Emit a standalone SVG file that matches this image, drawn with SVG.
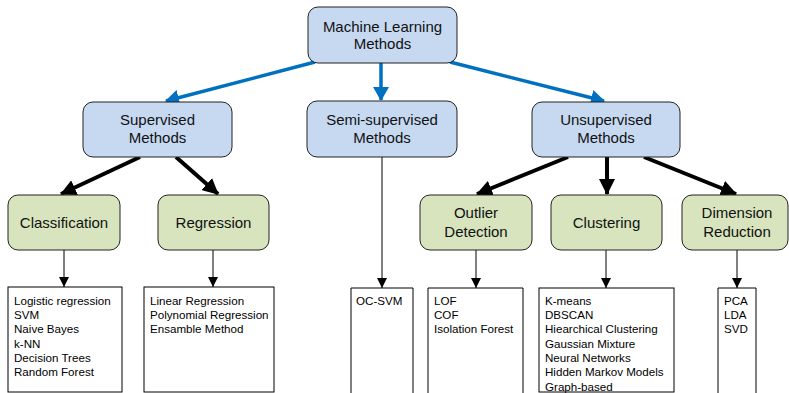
<svg xmlns="http://www.w3.org/2000/svg" width="789" height="393" viewBox="0 0 789 393">
  <style>
    .blue { fill: #c6d9f1; stroke: #222; stroke-width: 1; }
    .green { fill: #d7e4bd; stroke: #222; stroke-width: 1; }
    .list { fill: #fff; stroke: #000; stroke-width: 1; }
    .lbl { font-family: "Liberation Sans", Arial, sans-serif; font-size: 15px; fill: #111; text-anchor: middle; }
    .item { font-family: "Liberation Sans", Arial, sans-serif; font-size: 11.6px; fill: #000; }
    .c-blue { stroke: #0070c0; stroke-width: 3.5; fill: none; }
    .c-thick { stroke: #000; stroke-width: 4; fill: none; }
    .c-thin { stroke: #000; stroke-width: 1; fill: none; }
  </style>
  <defs>
    <marker id="hBlue" markerUnits="userSpaceOnUse" viewBox="0 0 14 16" refX="13" refY="8" markerWidth="14" markerHeight="16" orient="auto">
      <path d="M0,0 L14,8 L0,16 Z" fill="#0070c0"/>
    </marker>
    <marker id="hBlack" markerUnits="userSpaceOnUse" viewBox="0 0 16 16" refX="15" refY="8" markerWidth="16" markerHeight="16" orient="auto">
      <path d="M0,0 L16,8 L0,16 Z" fill="#000"/>
    </marker>
    <marker id="hThin" markerUnits="userSpaceOnUse" viewBox="0 0 10 10" refX="10" refY="5" markerWidth="10" markerHeight="10" orient="auto">
      <path d="M0,0 L10,5 L0,10 Z" fill="#000"/>
    </marker>
  </defs>

  <!-- connectors -->
  <g id="connectors">
    <line class="c-blue" x1="315" y1="62" x2="166" y2="101" marker-end="url(#hBlue)"/>
    <line class="c-blue" x1="381" y1="63" x2="381" y2="100" marker-end="url(#hBlue)"/>
    <line class="c-blue" x1="450" y1="62" x2="604" y2="101" marker-end="url(#hBlue)"/>

    <line class="c-thick" x1="140" y1="157" x2="61" y2="194" marker-end="url(#hBlack)"/>
    <line class="c-thick" x1="176" y1="157" x2="218" y2="194" marker-end="url(#hBlack)"/>
    <line class="c-thick" x1="568" y1="157" x2="477" y2="194" marker-end="url(#hBlack)"/>
    <line class="c-thick" x1="607" y1="157" x2="607" y2="194" marker-end="url(#hBlack)"/>
    <line class="c-thick" x1="644" y1="157" x2="736" y2="194" marker-end="url(#hBlack)"/>

    <line class="c-thin" x1="64" y1="250" x2="64" y2="287" marker-end="url(#hThin)"/>
    <line class="c-thin" x1="213" y1="250" x2="213" y2="287" marker-end="url(#hThin)"/>
    <line class="c-thin" x1="382" y1="157" x2="382" y2="288" marker-end="url(#hThin)"/>
    <line class="c-thin" x1="476" y1="250" x2="476" y2="288" marker-end="url(#hThin)"/>
    <line class="c-thin" x1="606" y1="250" x2="606" y2="288" marker-end="url(#hThin)"/>
    <line class="c-thin" x1="737" y1="250" x2="737" y2="288" marker-end="url(#hThin)"/>
  </g>

  <!-- method families -->
  <g id="ml-methods">
    <rect class="blue" x="308" y="7" width="149" height="56" rx="10"/>
    <text class="lbl" x="382.5" y="32">Machine Learning</text>
    <text class="lbl" x="382.5" y="49">Methods</text>
  </g>
  <g id="supervised">
    <rect class="blue" x="83" y="102" width="149" height="55" rx="10"/>
    <text class="lbl" x="157.5" y="125">Supervised</text>
    <text class="lbl" x="157.5" y="143">Methods</text>
  </g>
  <g id="semi-supervised">
    <rect class="blue" x="307" y="101" width="150" height="56" rx="10"/>
    <text class="lbl" x="382" y="125">Semi-supervised</text>
    <text class="lbl" x="382" y="143">Methods</text>
  </g>
  <g id="unsupervised">
    <rect class="blue" x="532" y="102" width="148" height="55" rx="10"/>
    <text class="lbl" x="606" y="125">Unsupervised</text>
    <text class="lbl" x="606" y="143">Methods</text>
  </g>

  <!-- tasks -->
  <g id="classification">
    <rect class="green" x="8" y="195" width="112" height="55" rx="10"/>
    <text class="lbl" x="64" y="228">Classification</text>
  </g>
  <g id="regression">
    <rect class="green" x="158" y="195" width="111" height="55" rx="10"/>
    <text class="lbl" x="213.5" y="228">Regression</text>
  </g>
  <g id="outlier-detection">
    <rect class="green" x="420" y="195" width="112" height="55" rx="10"/>
    <text class="lbl" x="476" y="218">Outlier</text>
    <text class="lbl" x="476" y="237">Detection</text>
  </g>
  <g id="clustering">
    <rect class="green" x="551" y="195" width="111" height="55" rx="10"/>
    <text class="lbl" x="606.5" y="228">Clustering</text>
  </g>
  <g id="dimension-reduction">
    <rect class="green" x="682" y="195" width="106" height="55" rx="10"/>
    <text class="lbl" x="737" y="218">Dimension</text>
    <text class="lbl" x="737" y="237">Reduction</text>
  </g>

  <!-- algorithm lists -->
  <g id="list-classification">
    <rect class="list" x="8" y="287" width="114" height="105"/>
    <text class="item" x="14" y="305">Logistic regression</text>
    <text class="item" x="14" y="319">SVM</text>
    <text class="item" x="14" y="333">Naive Bayes</text>
    <text class="item" x="14" y="348">k-NN</text>
    <text class="item" x="14" y="362">Decision Trees</text>
    <text class="item" x="14" y="376">Random Forest</text>
  </g>
  <g id="list-regression">
    <rect class="list" x="144" y="287" width="130" height="105"/>
    <text class="item" x="150" y="305">Linear Regression</text>
    <text class="item" x="150" y="319">Polynomial Regression</text>
    <text class="item" x="150" y="333">Ensamble Method</text>
  </g>
  <g id="list-semi">
    <path class="list" d="M351,394 V288 H413 V394"/>
    <text class="item" x="356" y="305">OC-SVM</text>
  </g>
  <g id="list-outlier">
    <path class="list" d="M428,394 V288 H523 V394"/>
    <text class="item" x="434" y="305">LOF</text>
    <text class="item" x="434" y="319">COF</text>
    <text class="item" x="434" y="333">Isolation Forest</text>
  </g>
  <g id="list-clustering">
    <rect class="list" x="539" y="288" width="135" height="104"/>
    <text class="item" x="545" y="305">K-means</text>
    <text class="item" x="545" y="319">DBSCAN</text>
    <text class="item" x="545" y="333">Hiearchical Clustering</text>
    <text class="item" x="545" y="348">Gaussian Mixture</text>
    <text class="item" x="545" y="362">Neural Networks</text>
    <text class="item" x="545" y="376">Hidden Markov Models</text>
    <text class="item" x="545" y="391">Graph-based</text>
  </g>
  <g id="list-dimension">
    <path class="list" d="M718,394 V288 H756 V394"/>
    <text class="item" x="724" y="305">PCA</text>
    <text class="item" x="724" y="319">LDA</text>
    <text class="item" x="724" y="333">SVD</text>
  </g>
</svg>
